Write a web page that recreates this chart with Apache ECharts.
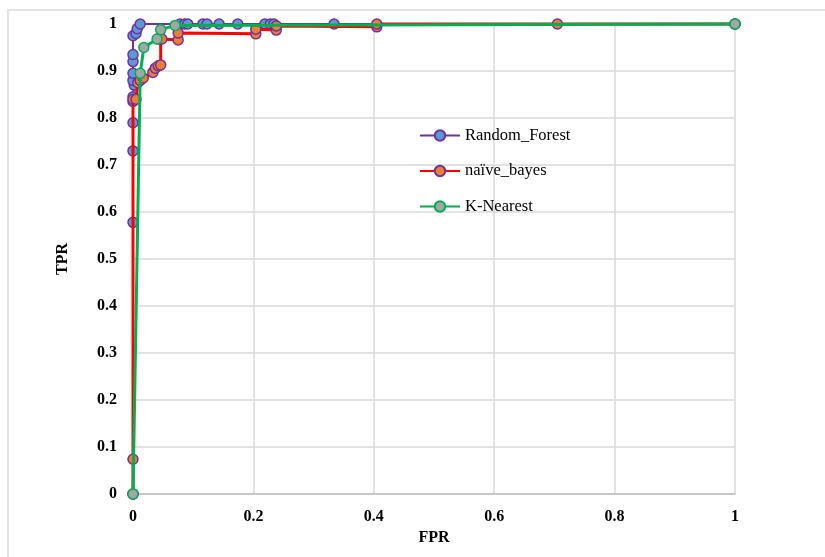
<!DOCTYPE html>
<html>
<head>
<meta charset="utf-8">
<script src="https://cdn.jsdelivr.net/npm/echarts@6/dist/echarts.min.js"></script>
<style>
  html, body { margin: 0; padding: 0; background: #fff; overflow: hidden; width: 825px; height: 557px; }
  #frame { position: absolute; left: 7px; top: 9px; width: 816px; height: 546px; border-top: 2px solid #e3e3e3; border-left: 2px solid #e3e3e3; }
  #chart { position: absolute; left: 0; top: 0; width: 825px; height: 557px; }
</style>
</head>
<body>
<div id="frame"></div>
<div id="chart"></div>
<script>
// ---- data ----
const seriesNames = ['Random_Forest', 'naïve_bayes', 'K-Nearest'];

const rfFPR = [0, 0, 0, 0, 0, 0, 0.002, 0, 0, 0, 0, 0, 0.005, 0.007, 0.012, 0.078, 0.086, 0.091, 0.116, 0.123, 0.143, 0.174, 0.219, 0.228, 0.234, 0.334, 1];
const rfTPR = [0, 0.578, 0.73, 0.79, 0.835, 0.845, 0.87, 0.88, 0.895, 0.92, 0.935, 0.975, 0.98, 0.99, 1, 1, 1, 1, 1, 1, 1, 1, 1, 1, 1, 1, 1];

const nbFPR = [0, 0, 0, 0.005, 0.008, 0.012, 0.017, 0.033, 0.037, 0.042, 0.046, 0.046, 0.042, 0.048, 0.075, 0.075, 0.204, 0.204, 0.238, 0.238, 0.405, 0.405, 0.705, 1];
const nbTPR = [0, 0.074, 0.84, 0.84, 0.875, 0.88, 0.885, 0.897, 0.906, 0.911, 0.913, 0.968, 0.968, 0.968, 0.966, 0.981, 0.979, 0.989, 0.987, 0.996, 0.994, 1, 1, 1];

const knnFPR = [0, 0.012, 0.018, 0.040, 0.046, 0.070, 1];
const knnTPR = [0, 0.895, 0.95, 0.968, 0.988, 0.997, 1];

const xTicks = [0, 0.2, 0.4, 0.6, 0.8, 1];
const yTicks = [0, 0.1, 0.2, 0.3, 0.4, 0.5, 0.6, 0.7, 0.8, 0.9, 1];

// ---- chart ----
const zip = (a, b) => a.map((v, i) => [v, b[i]]);
const chart = echarts.init(document.getElementById('chart'), null, { renderer: 'canvas' });
const serif = '"Liberation Serif", "Times New Roman", serif';

function mk(name, xs, ys, lineColor, fill, border, lw, z) {
  return {
    name, type: 'line', data: zip(xs, ys), z,
    symbol: 'circle', symbolSize: 10, clip: false,
    lineStyle: { color: lineColor, width: lw },
    itemStyle: { color: fill, borderColor: border, borderWidth: 1.5 },
    emphasis: { disabled: true },
    animation: false
  };
}

chart.setOption({
  backgroundColor: 'transparent',
  animation: false,
  grid: { left: 133, right: 90, top: 24, bottom: 63 },
  legend: {
    orient: 'vertical', left: 414, top: 122,
    itemWidth: 40, itemHeight: 13, itemGap: 18.5,
    textStyle: { fontFamily: serif, fontSize: 16.5, color: '#000' },
    data: seriesNames
  },
  xAxis: {
    type: 'value', min: 0, max: 1, interval: 0.2,
    name: 'FPR', nameLocation: 'middle', nameGap: 36,
    nameTextStyle: { fontFamily: serif, fontSize: 16, fontWeight: 'bold', color: '#000' },
    axisLine: { show: true, lineStyle: { color: '#bfbfbf', width: 1.5 } },
    axisTick: { show: false },
    axisLabel: { fontFamily: serif, fontSize: 16, fontWeight: 'bold', color: '#000', margin: 15,
      formatter: v => xTicks.includes(+v.toFixed(1)) ? String(+v.toFixed(1)) : '' },
    splitLine: { show: true, lineStyle: { color: '#d9d9d9', width: 1.5 } }
  },
  yAxis: {
    type: 'value', min: 0, max: 1, interval: 0.1,
    name: 'TPR', nameLocation: 'middle', nameGap: 62, nameRotate: 90,
    nameTextStyle: { fontFamily: serif, fontSize: 16, fontWeight: 'bold', color: '#000' },
    axisLine: { show: false },
    axisTick: { show: false },
    axisLabel: { fontFamily: serif, fontSize: 16, fontWeight: 'bold', color: '#000', margin: 16,
      formatter: v => { const r = +v.toFixed(1); return yTicks.includes(r) ? String(r) : ''; } },
    splitLine: { show: true, lineStyle: { color: '#d9d9d9', width: 1.5 } }
  },
  series: [
    mk(seriesNames[0], rfFPR, rfTPR, '#7030A0', '#5B9BD5', '#7030A0', 2, 2),
    mk(seriesNames[1], nbFPR, nbTPR, '#FF0000', '#ED7D31', '#7030A0', 3, 3),
    mk(seriesNames[2], knnFPR, knnTPR, '#00B050', '#A5A5A5', '#00B050', 3, 4)
  ]
});
</script>
</body>
</html>
